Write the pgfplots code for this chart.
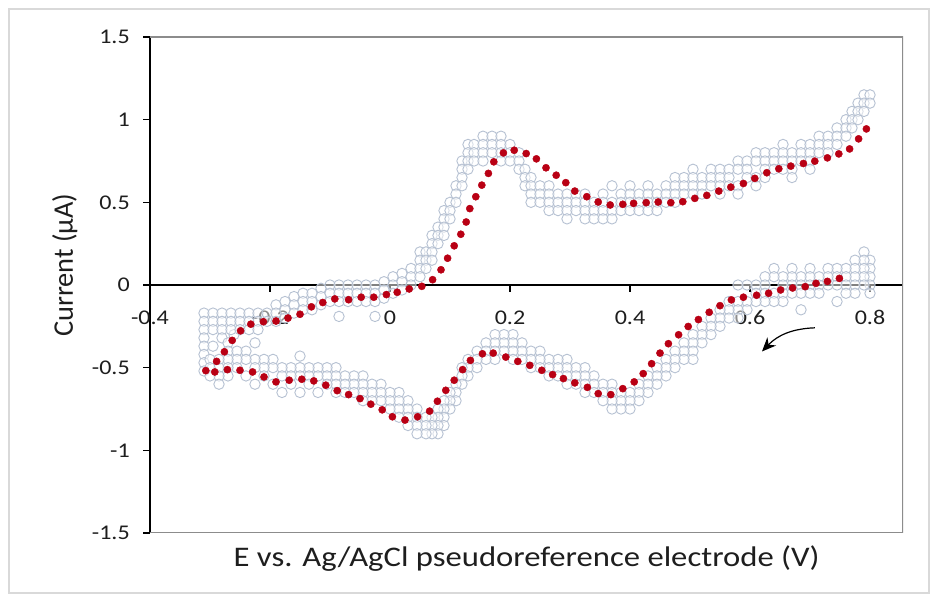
\documentclass[border=0pt]{standalone}
\usepackage{fontspec}
\setmainfont{Carlito}
\usepackage{pgfplots}
\pgfplotsset{compat=1.18}
\usetikzlibrary{arrows.meta}

\definecolor{ringgray}{RGB}{182,193,210}
\definecolor{dotred}{RGB}{185,0,20}
\definecolor{framegray}{RGB}{217,217,217}
\definecolor{boxgray}{RGB}{140,140,140}
\definecolor{txt}{RGB}{30,30,30}

\begin{document}
\begin{tikzpicture}
\useasboundingbox (0,0) rectangle (938bp,602bp);
\fill[white] (0,0) rectangle (938bp,602bp);
\draw[framegray, line width=1.2bp] (9bp,9bp) rectangle (929bp,593bp);
\begin{axis}[
    at={(150bp,69bp)}, anchor=south west,
    scale only axis, width=753bp, height=496bp,
    xmin=-0.4, xmax=0.855, ymin=-1.5, ymax=1.5,
    axis x line=middle, axis y line=left,
    axis line style={-, black},
    x axis line style={line width=1.3bp},
    y axis line style={line width=2bp},
    xtick={-0.4,-0.2,0,0.2,0.4,0.6,0.8},
    ytick={-1.5,-1,-0.5,0,0.5,1,1.5},
    tick align=outside, major tick length=7bp,
    tick style={black, line width=1.5bp},
    hide obscured x ticks=false, hide obscured y ticks=false,
    /pgf/number format/assume math mode=true,
    ticklabel style={font=\fontsize{21}{25}\selectfont, text=txt, xscale=1.15},
    xticklabel style={anchor=north, yshift=-15bp},
    yticklabel style={xshift=-8bp},
    label style={font=\fontsize{28.5}{32}\selectfont, text=txt},
    xlabel={E vs. Ag/AgCl pseudoreference electrode (V)},
    xlabel style={at={(rel axis cs:0.5,0)}, anchor=base, yshift=-34bp, xscale=1.15},
    ylabel={Current (µA)},
    ylabel style={at={([xshift=-77bp]rel axis cs:0,0.54)}, anchor=base},
    ring/.style={only marks, mark=*, mark size=5.2bp,
        mark options={fill=white, fill opacity=0.5, draw=ringgray, line width=0.9bp}},
    dot/.style={only marks, mark=*, mark size=3.6bp, color=dotred},
]
% plot area border (top, right, bottom)
\draw[boxgray, line width=1.4bp] (rel axis cs:0,0) -- (rel axis cs:1,0) -- (rel axis cs:1,1) -- (rel axis cs:0,1);

% raw data, forward scan
\addplot[ring] coordinates {
(-0.31,-0.17)(-0.31,-0.22)(-0.31,-0.27)(-0.31,-0.32)(-0.31,-0.37)(-0.31,-0.42)(-0.31,-0.47)(-0.31,-0.52)
(-0.295,-0.17)(-0.295,-0.22)(-0.295,-0.27)(-0.295,-0.37)
(-0.28,-0.17)(-0.28,-0.22)(-0.28,-0.27)(-0.28,-0.32)
(-0.27,-0.35)(-0.27,-0.4)(-0.26,-0.3)
(-0.265,-0.17)(-0.265,-0.22)(-0.265,-0.27)
(-0.25,-0.17)(-0.25,-0.22)(-0.25,-0.27)
(-0.235,-0.17)(-0.235,-0.22)(-0.235,-0.27)
(-0.22,-0.17)(-0.22,-0.22)(-0.22,-0.27)
(-0.205,-0.17)(-0.205,-0.22)
(-0.19,-0.12)(-0.19,-0.17)(-0.19,-0.22)
(-0.175,-0.1)(-0.175,-0.15)(-0.175,-0.2)
(-0.16,-0.07)(-0.16,-0.12)(-0.16,-0.17)
(-0.145,-0.05)(-0.145,-0.1)(-0.145,-0.15)
(-0.13,-0.05)(-0.13,-0.1)(-0.13,-0.15)
(-0.115,-0.02)(-0.115,-0.07)(-0.115,-0.12)
(-0.1,0)(-0.1,-0.05)(-0.1,-0.1)
(-0.085,0)(-0.085,-0.05)(-0.085,-0.1)(-0.085,-0.19)
(-0.07,0)(-0.07,-0.05)(-0.07,-0.1)
(-0.055,0)(-0.055,-0.05)(-0.055,-0.1)
(-0.04,0)(-0.04,-0.05)(-0.04,-0.1)
(-0.025,0)(-0.025,-0.05)(-0.025,-0.1)(-0.025,-0.19)
(-0.01,0.02)(-0.01,-0.03)(-0.01,-0.08)
(0.005,0.05)(0.005,0)(0.005,-0.05)
(0.02,0.07)(0.02,0.02)(0.02,-0.03)
(0.035,0.1)(0.035,0.05)(0.035,0)
(0.05,0.2)(0.05,0.15)(0.05,0.1)(0.05,0.05)
(0.06,0.2)(0.06,0.15)(0.06,0.1)
(0.07,0.3)(0.07,0.25)(0.07,0.2)(0.07,0.15)
(0.08,0.35)(0.08,0.3)(0.08,0.25)
(0.09,0.45)(0.09,0.4)(0.09,0.35)(0.09,0.3)
(0.1,0.5)(0.1,0.45)(0.1,0.4)
(0.11,0.6)(0.11,0.55)(0.11,0.5)
(0.12,0.75)(0.12,0.7)(0.12,0.65)(0.12,0.6)
(0.13,0.85)(0.13,0.8)(0.13,0.75)(0.13,0.7)
(0.14,0.85)(0.14,0.8)(0.14,0.75)
(0.155,0.9)(0.155,0.85)(0.155,0.8)(0.155,0.75)
(0.17,0.9)(0.17,0.85)(0.17,0.8)
(0.185,0.9)(0.185,0.85)(0.185,0.8)(0.185,0.75)
(0.2,0.85)(0.2,0.8)(0.2,0.75)
(0.215,0.8)(0.215,0.75)(0.215,0.7)
(0.225,0.7)(0.225,0.65)(0.225,0.6)
(0.235,0.65)(0.235,0.6)(0.235,0.55)(0.235,0.5)
(0.25,0.6)(0.25,0.55)(0.25,0.5)
(0.265,0.6)(0.265,0.55)(0.265,0.5)(0.265,0.45)
(0.28,0.55)(0.28,0.5)(0.28,0.45)
(0.295,0.55)(0.295,0.5)(0.295,0.45)(0.295,0.4)
(0.31,0.55)(0.31,0.5)(0.31,0.45)
(0.325,0.55)(0.325,0.5)(0.325,0.45)(0.325,0.4)
(0.34,0.5)(0.34,0.45)(0.34,0.4)
(0.355,0.55)(0.355,0.5)(0.355,0.45)(0.355,0.4)
(0.37,0.6)(0.37,0.5)(0.37,0.45)(0.37,0.4)
(0.385,0.55)(0.385,0.5)(0.385,0.45)
(0.4,0.6)(0.4,0.55)(0.4,0.5)(0.4,0.45)
(0.415,0.55)(0.415,0.5)(0.415,0.45)
(0.43,0.6)(0.43,0.55)(0.43,0.5)(0.43,0.45)
(0.445,0.55)(0.445,0.5)(0.445,0.45)
(0.46,0.6)(0.46,0.55)(0.46,0.5)
(0.475,0.65)(0.475,0.6)(0.475,0.55)(0.475,0.5)
(0.49,0.65)(0.49,0.6)(0.49,0.55)
(0.505,0.7)(0.505,0.65)(0.505,0.6)(0.505,0.55)
(0.52,0.65)(0.52,0.6)(0.52,0.55)
(0.535,0.7)(0.535,0.65)(0.535,0.6)
(0.55,0.7)(0.55,0.65)(0.55,0.6)(0.55,0.55)
(0.565,0.7)(0.565,0.65)(0.565,0.6)
(0.58,0.75)(0.58,0.7)(0.58,0.6)(0.58,0.55)
(0.595,0.75)(0.595,0.7)(0.595,0.65)
(0.61,0.8)(0.61,0.75)(0.61,0.65)(0.61,0.6)
(0.625,0.8)(0.625,0.75)(0.625,0.7)(0.625,0.65)
(0.64,0.8)(0.64,0.75)(0.64,0.7)
(0.655,0.85)(0.655,0.8)(0.655,0.75)(0.655,0.7)
(0.67,0.8)(0.67,0.75)(0.67,0.7)(0.67,0.65)
(0.685,0.85)(0.685,0.8)(0.685,0.75)
(0.7,0.85)(0.7,0.8)(0.7,0.75)(0.7,0.7)
(0.715,0.9)(0.715,0.85)(0.715,0.8)
(0.73,0.9)(0.73,0.85)(0.73,0.8)
(0.745,0.95)(0.745,0.9)(0.745,0.85)
(0.76,1)(0.76,0.95)(0.76,0.9)
(0.77,1.05)(0.77,1)(0.77,0.95)
(0.78,1.1)(0.78,1.05)(0.78,1)
(0.79,1.15)(0.79,1.1)(0.79,1.05)
(0.8,1.15)(0.8,1.1)
};
% raw data, reverse scan
\addplot[ring] coordinates {
(0.8,0.15)(0.8,0.1)(0.8,0.05)(0.8,0)(0.8,-0.05)
(0.79,0.2)(0.79,0.15)(0.79,0.1)(0.79,0.05)(0.79,0)
(0.775,0.15)(0.775,0.1)(0.775,0.05)(0.775,0)(0.775,-0.05)
(0.76,0.1)(0.76,0.05)(0.76,0)(0.76,-0.05)
(0.745,0.1)(0.745,0.05)(0.745,0)(0.745,-0.1)
(0.73,0.1)(0.73,0.05)(0.73,0)
(0.715,0.05)(0.715,0)(0.715,-0.05)
(0.7,0.1)(0.7,0.05)(0.7,0)(0.7,-0.05)
(0.685,0.05)(0.685,0)(0.685,-0.05)(0.685,-0.15)
(0.67,0.1)(0.67,0.05)(0.67,0)(0.67,-0.05)
(0.655,0.05)(0.655,0)(0.655,-0.05)(0.655,-0.1)
(0.64,0.1)(0.64,0.05)(0.64,-0.05)(0.64,-0.1)
(0.625,0.05)(0.625,0)(0.625,-0.05)(0.625,-0.1)
(0.61,0)(0.61,-0.05)(0.61,-0.1)
(0.595,0)(0.595,-0.1)(0.595,-0.15)
(0.58,0)(0.58,-0.1)(0.58,-0.15)(0.58,-0.2)
(0.565,-0.1)(0.565,-0.15)(0.565,-0.2)
(0.55,-0.15)(0.55,-0.2)(0.55,-0.25)
(0.535,-0.2)(0.535,-0.25)(0.535,-0.3)
(0.52,-0.25)(0.52,-0.3)(0.52,-0.35)
(0.505,-0.3)(0.505,-0.35)(0.505,-0.4)(0.505,-0.45)
(0.49,-0.35)(0.49,-0.4)(0.49,-0.45)
(0.475,-0.4)(0.475,-0.45)(0.475,-0.5)
(0.46,-0.45)(0.46,-0.5)(0.46,-0.55)
(0.445,-0.5)(0.445,-0.55)(0.445,-0.6)
(0.43,-0.55)(0.43,-0.6)(0.43,-0.65)
(0.415,-0.6)(0.415,-0.65)(0.415,-0.7)
(0.4,-0.65)(0.4,-0.7)(0.4,-0.75)
(0.385,-0.65)(0.385,-0.7)(0.385,-0.75)
(0.37,-0.6)(0.37,-0.65)(0.37,-0.7)(0.37,-0.75)
(0.355,-0.6)(0.355,-0.65)(0.355,-0.7)
(0.34,-0.55)(0.34,-0.6)(0.34,-0.65)
(0.325,-0.5)(0.325,-0.55)(0.325,-0.6)(0.325,-0.65)
(0.31,-0.5)(0.31,-0.55)(0.31,-0.6)
(0.295,-0.45)(0.295,-0.5)(0.295,-0.55)(0.295,-0.6)
(0.28,-0.45)(0.28,-0.5)(0.28,-0.55)
(0.265,-0.45)(0.265,-0.5)(0.265,-0.55)
(0.25,-0.4)(0.25,-0.45)(0.25,-0.5)
(0.235,-0.4)(0.235,-0.45)(0.235,-0.5)
(0.22,-0.35)(0.22,-0.4)(0.22,-0.45)
(0.205,-0.3)(0.205,-0.35)(0.205,-0.4)(0.205,-0.45)
(0.19,-0.3)(0.19,-0.35)(0.19,-0.4)
(0.175,-0.3)(0.175,-0.35)(0.175,-0.4)(0.175,-0.45)
(0.16,-0.35)(0.16,-0.4)(0.16,-0.45)
(0.145,-0.4)(0.145,-0.45)(0.145,-0.5)
(0.13,-0.45)(0.13,-0.5)(0.13,-0.55)
(0.12,-0.5)(0.12,-0.55)(0.12,-0.6)
(0.11,-0.6)(0.11,-0.65)(0.11,-0.7)
(0.1,-0.65)(0.1,-0.7)(0.1,-0.75)
(0.09,-0.7)(0.09,-0.75)(0.09,-0.8)(0.09,-0.85)
(0.08,-0.75)(0.08,-0.8)(0.08,-0.85)(0.08,-0.9)
(0.07,-0.8)(0.07,-0.85)(0.07,-0.9)
(0.06,-0.8)(0.06,-0.85)(0.06,-0.9)
(0.045,-0.75)(0.045,-0.8)(0.045,-0.85)(0.045,-0.9)
(0.03,-0.7)(0.03,-0.75)(0.03,-0.8)(0.03,-0.85)
(0.015,-0.65)(0.015,-0.7)(0.015,-0.75)(0.015,-0.8)
(0,-0.65)(0,-0.7)(0,-0.75)
(-0.015,-0.6)(-0.015,-0.65)(-0.015,-0.7)
(-0.03,-0.6)(-0.03,-0.65)(-0.03,-0.7)
(-0.045,-0.55)(-0.045,-0.6)(-0.045,-0.65)(-0.045,-0.7)
(-0.06,-0.55)(-0.06,-0.6)(-0.06,-0.65)
(-0.075,-0.55)(-0.075,-0.6)(-0.075,-0.65)
(-0.09,-0.5)(-0.09,-0.55)(-0.09,-0.6)(-0.09,-0.65)
(-0.105,-0.5)(-0.105,-0.55)(-0.105,-0.6)
(-0.12,-0.5)(-0.12,-0.55)(-0.12,-0.65)
(-0.135,-0.5)(-0.135,-0.55)(-0.135,-0.6)
(-0.15,-0.43)(-0.15,-0.5)(-0.15,-0.55)(-0.15,-0.65)
(-0.165,-0.5)(-0.165,-0.55)(-0.165,-0.6)
(-0.18,-0.5)(-0.18,-0.55)(-0.18,-0.65)
(-0.195,-0.45)(-0.195,-0.5)(-0.195,-0.6)
(-0.21,-0.45)(-0.21,-0.5)(-0.21,-0.55)
(-0.225,-0.35)(-0.225,-0.45)(-0.225,-0.5)(-0.225,-0.6)
(-0.24,-0.4)(-0.24,-0.45)(-0.24,-0.55)
(-0.255,-0.4)(-0.255,-0.45)(-0.255,-0.5)
(-0.27,-0.45)(-0.27,-0.5)(-0.27,-0.55)
(-0.285,-0.45)(-0.285,-0.5)(-0.285,-0.55)(-0.285,-0.6)
(-0.3,-0.45)(-0.3,-0.5)(-0.3,-0.55)
};

% smoothed curve, forward scan
\addplot[dot] coordinates {
(-0.289,-0.462)(-0.276,-0.404)(-0.263,-0.335)(-0.249,-0.277)(-0.232,-0.237)
(-0.211,-0.222)(-0.190,-0.218)(-0.170,-0.200)(-0.150,-0.177)(-0.131,-0.132)
(-0.112,-0.106)(-0.092,-0.084)(-0.069,-0.089)(-0.048,-0.074)(-0.027,-0.074)
(-0.006,-0.058)(0.012,-0.044)(0.032,-0.024)(0.053,-0.008)(0.071,0.032)
(0.085,0.092)(0.096,0.162)(0.107,0.237)(0.118,0.307)(0.127,0.381)
(0.133,0.462)(0.143,0.534)(0.153,0.604)(0.164,0.675)(0.173,0.745)
(0.189,0.799)(0.207,0.815)(0.227,0.795)(0.244,0.763)(0.260,0.709)
(0.277,0.664)(0.293,0.619)(0.308,0.568)(0.328,0.534)(0.347,0.502)
(0.367,0.484)(0.388,0.488)(0.406,0.494)(0.427,0.498)(0.447,0.502)
(0.468,0.498)(0.488,0.504)(0.508,0.524)(0.528,0.542)(0.548,0.568)
(0.568,0.592)(0.589,0.614)(0.608,0.645)(0.628,0.679)(0.648,0.703)
(0.668,0.719)(0.689,0.735)(0.708,0.749)(0.729,0.769)(0.748,0.793)
(0.766,0.823)(0.781,0.884)(0.794,0.944)
};
% smoothed curve, reverse scan
\addplot[dot] coordinates {
(0.749,0.040)(0.729,0.022)(0.710,0.010)(0.692,-0.010)(0.671,-0.018)
(0.651,-0.030)(0.631,-0.050)(0.611,-0.062)(0.589,-0.074)(0.569,-0.090)
(0.550,-0.125)(0.532,-0.165)(0.514,-0.209)(0.497,-0.251)(0.481,-0.301)
(0.464,-0.355)(0.450,-0.412)(0.436,-0.476)(0.422,-0.536)(0.407,-0.586)
(0.388,-0.627)(0.368,-0.663)(0.347,-0.657)(0.329,-0.619)(0.308,-0.592)
(0.289,-0.566)(0.271,-0.542)(0.253,-0.516)(0.233,-0.486)(0.213,-0.462)
(0.193,-0.436)(0.172,-0.412)(0.154,-0.416)(0.134,-0.456)(0.121,-0.512)
(0.107,-0.576)(0.093,-0.637)(0.079,-0.703)(0.066,-0.763)(0.046,-0.797)
(0.025,-0.817)(0.004,-0.797)(-0.013,-0.755)(-0.032,-0.721)(-0.050,-0.687)
(-0.069,-0.663)(-0.088,-0.639)(-0.107,-0.606)(-0.127,-0.580)(-0.147,-0.570)
(-0.168,-0.576)(-0.190,-0.586)(-0.210,-0.556)(-0.229,-0.526)(-0.250,-0.516)
(-0.271,-0.512)(-0.292,-0.526)(-0.307,-0.518)
};

% scan direction arrow
\draw[-{Stealth[length=14bp,width=12bp]}, line width=1.2bp, black]
    (axis cs:0.708,-0.259) to[bend right=22] (axis cs:0.62,-0.402);
\end{axis}
\end{tikzpicture}
\end{document}
